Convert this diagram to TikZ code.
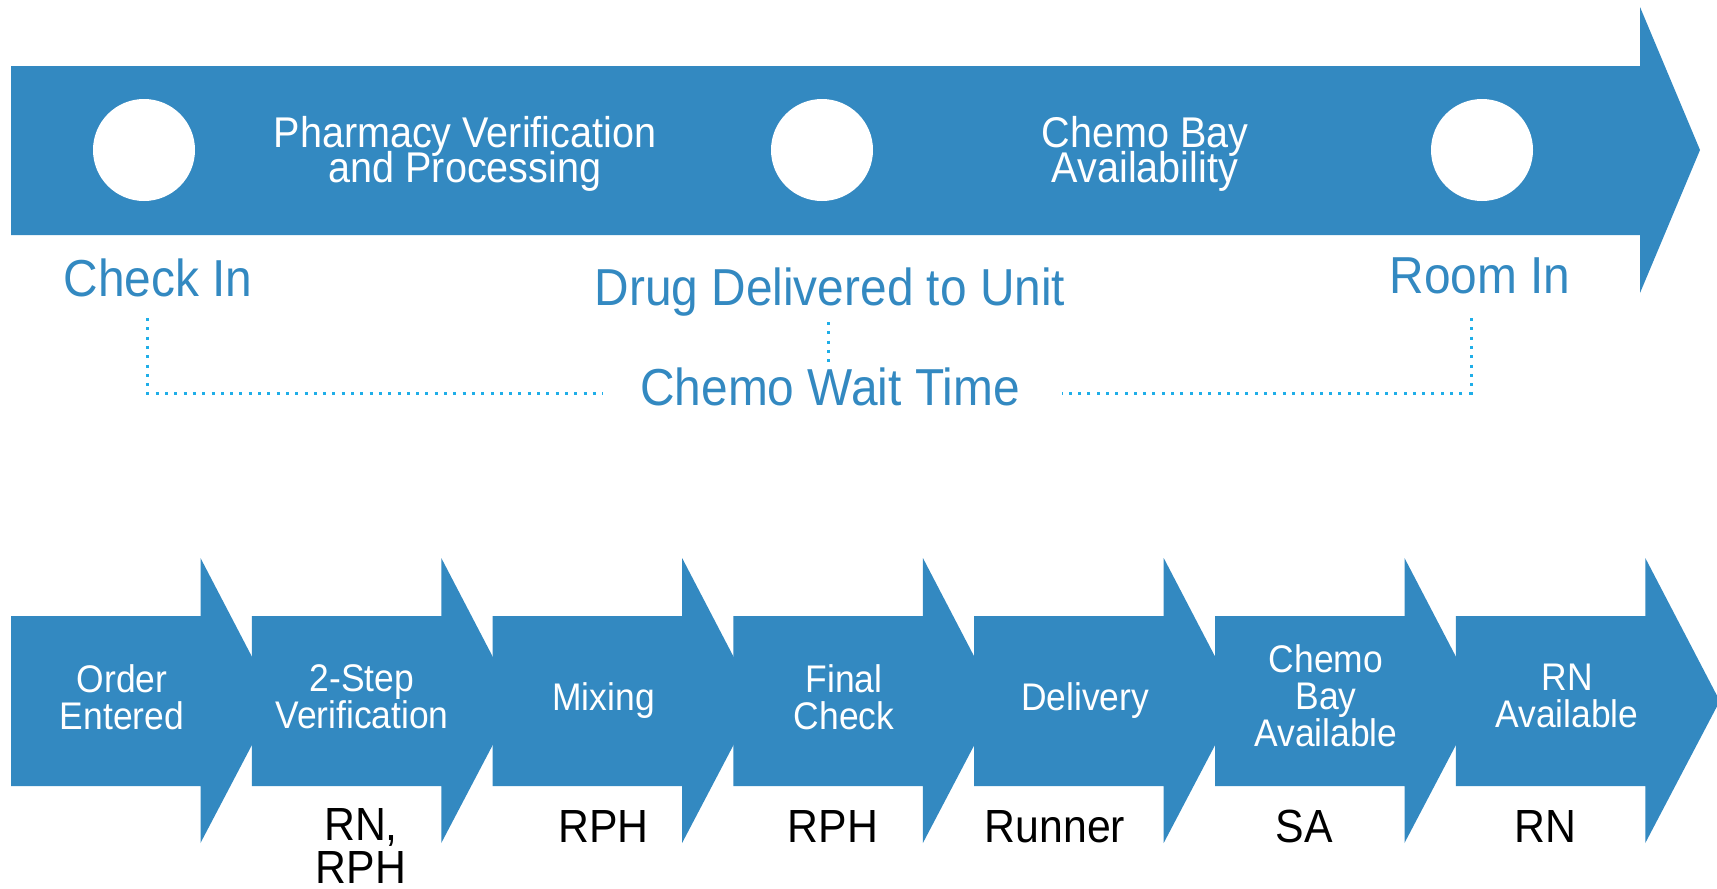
\documentclass[tikz,border=0pt]{standalone}
\usepackage{fontspec}
\setmainfont{Liberation Sans}[FakeStretch=0.92]
\definecolor{barblue}{HTML}{3389C1}
\definecolor{dotblue}{HTML}{1FAEE8}
\newcommand{\mytightlines}{\lineskiplimit -1000pt\relax}
\begin{document}
\begin{tikzpicture}[x=1pt,y=-1pt,
  barfill/.style={fill=barblue,draw=none},
  milestonedot/.style={circle,fill=white,draw=none,minimum size=102pt,inner sep=0pt},
  toptext/.style={text=white,font={\fontsize{43}{35}\selectfont\mytightlines},align=center,inner sep=0pt,anchor=north},
  milestone/.style={text=barblue,font={\fontsize{52}{60}\selectfont},inner sep=0pt,anchor=base},
  steptext/.style={text=white,font={\fontsize{38.5}{37}\selectfont\mytightlines},align=center,inner sep=0pt},
  rolelabel/.style={text=black,font={\fontsize{46.5}{43}\selectfont\mytightlines},align=center,inner sep=0pt},
  waitline/.style={draw=dotblue,line width=3pt,dash pattern=on 3pt off 6.3pt}]
\useasboundingbox (0,0) rectangle (1717,889);

% top timeline arrow
\fill[barfill] (11,66) -- (1640,66) -- (1640,7) -- (1700,150) -- (1640,293) -- (1640,235) -- (11,235) -- cycle;
\node[milestonedot] (c1) at (144,150) {};
\node[milestonedot] (c2) at (822,150) {};
\node[milestonedot] (c3) at (1482,150) {};
\node[toptext] (pharm) at (465,116.6) {Pharmacy Verification\\and Processing};
\node[toptext] (bay) at (1145,116.6) {Chemo Bay\\Availability};

\node[milestone] (checkin) at (158,296) {Check In};
\node[milestone] (drug) at (830,305) {Drug Delivered to Unit};
\node[milestone] (roomin) at (1480,293) {Room In};
\node[milestone] (wait) at (830,405) {Chemo Wait Time};

\coordinate (l1) at (147,318);
\coordinate (l2) at (603,393);
\coordinate (m1) at (828,322);
\coordinate (m2) at (828,363);
\coordinate (q1) at (1471,318);
\coordinate (q2) at (1062,393);
\draw[waitline] (l1) |- (l2);
\draw[waitline] (m1) -- (m2);
\draw[waitline] (q1) |- (q2);

% bottom process arrows
\foreach \i in {0,...,6}{
  \pgfmathsetmacro{\L}{11+240.8*\i}
  \fill[barfill] (\L,616) -- ({\L+189.5},616) -- ({\L+189.5},558) -- ({\L+264},701)
     -- ({\L+189.5},843) -- ({\L+189.5},786) -- (\L,786) -- cycle;
}
\node[steptext,anchor=north] (s1) at (122,664) {Order\\Entered};
\node[steptext,anchor=north] (s2) at (362,664) {2-Step\\Verification};
\node[steptext,anchor=base] (s3) at (603.6,710) {Mixing};
\node[steptext,anchor=north] (s4) at (844,664) {Final\\Check};
\node[steptext,anchor=base] (s5) at (1085,710) {Delivery};
\node[steptext,anchor=north] (s6) at (1326,644) {Chemo\\Bay\\Available};
\node[steptext,anchor=north] (s7) at (1567,664) {RN\\Available};

\node[rolelabel,anchor=north] (r2) at (361,808.7) {RN,\\RPH};
\node[rolelabel,anchor=base] (r3) at (603.5,842) {RPH};
\node[rolelabel,anchor=base] (r4) at (833,842) {RPH};
\node[rolelabel,anchor=base] (r5) at (1055,842) {Runner};
\node[rolelabel,anchor=base] (r6) at (1304,842) {SA};
\node[rolelabel,anchor=base] (r7) at (1545,842) {RN};
\end{tikzpicture}
\end{document}
